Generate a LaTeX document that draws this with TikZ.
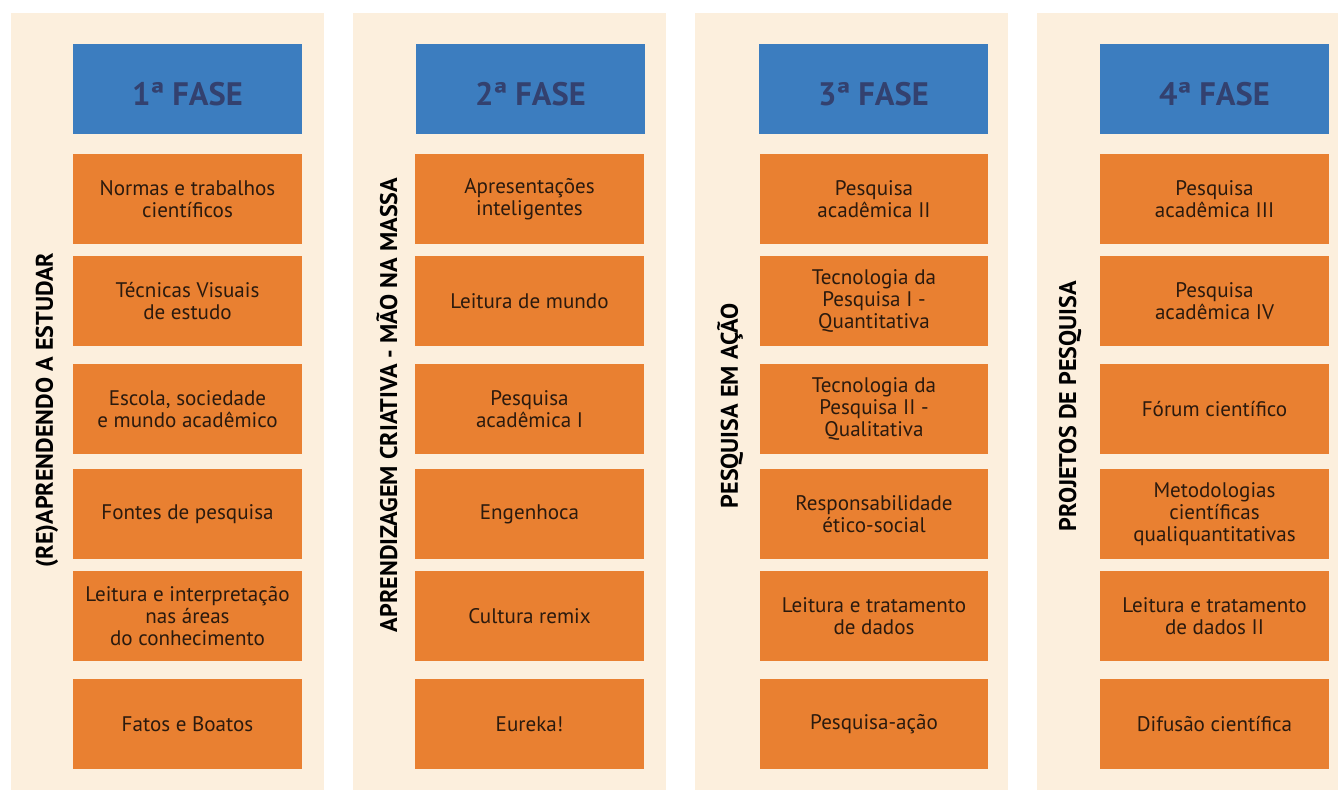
\documentclass[tikz,border=0pt]{standalone}
\usepackage{fontspec}
\setmainfont{PT Sans}
\usepackage{tikz}
\usetikzlibrary{positioning,calc}
\usepackage{xcolor}

\definecolor{panelcream}{HTML}{FCEFDD}
\definecolor{phaseblue}{HTML}{3C7DBF}
\definecolor{phasetext}{HTML}{33416F}
\definecolor{itemorange}{HTML}{E98031}
\definecolor{itemtext}{HTML}{2B1A0E}

\tikzset{
  panel/.style={fill=panelcream, draw=none},
  phasebox/.style={fill=phaseblue, text=phasetext, minimum width=4.58cm, minimum height=1.8cm,
    inner sep=0pt, text height=0.66cm, text depth=0pt, font=\fontsize{18.5}{20}\selectfont\bfseries},
  stepitem/.style={fill=itemorange, text=itemtext, minimum width=4.58cm, minimum height=1.8cm,
    inner sep=0pt, align=center, font=\fontsize{12}{12.5}\selectfont},
  sidelabel/.style={rotate=90, text=black, font=\fontsize{13.7}{15}\selectfont\bfseries}
}

\begin{document}
\begin{tikzpicture}[x=0.02cm, y=-0.02cm]
\useasboundingbox (0,0) rectangle (1338,790);

% fundos das fases
\fill[panel] (11,13) rectangle (324,790);
\fill[panel] (353,13) rectangle (666,790);
\fill[panel] (695,13) rectangle (1008,790);
\fill[panel] (1037,13) rectangle (1338,790);

% cabecalhos
\node[phasebox] (fase1) at (187.5,89) {1ª FASE};
\node[phasebox] (fase2) at (530.5,89) {2ª FASE};
\node[phasebox] (fase3) at (873.5,89) {3ª FASE};
\node[phasebox] (fase4) at (1214.5,89) {4ª FASE};

% titulos laterais
\node[sidelabel] (tit1) at (47,410) {(RE)APRENDENDO A ESTUDAR};
\node[sidelabel] (tit2) at (387,405) {APRENDIZAGEM CRIATIVA - MÃO NA MASSA};
\node[sidelabel] (tit3) at (730,406) {PESQUISA EM AÇÃO};
\node[sidelabel] (tit4) at (1070,406) {PROJETOS DE PESQUISA};

% 1a fase
\foreach \y/\t [count=\i] in {199/{Normas e trabalhos\\científicos},
    301/{Técnicas Visuais\\de estudo},
    409/{Escola, sociedade\\e mundo acadêmico},
    514/{Fontes de pesquisa},
    616/{Leitura e interpretação\\nas áreas\\do conhecimento},
    724/{Fatos e Boatos}} {
  \node[stepitem] (a\i) at (187.5,\y) {\t};
}

% 2a fase
\foreach \y/\t [count=\i] in {199/{Apresentações\\inteligentes},
    301/{Leitura de mundo},
    409/{Pesquisa\\acadêmica I},
    514/{Engenhoca},
    616/{Cultura remix},
    724/{Eureka!}} {
  \node[stepitem] (b\i) at (529.5,\y) {\t};
}

% 3a fase
\foreach \y/\t [count=\i] in {199/{Pesquisa\\acadêmica II},
    301/{Tecnologia da\\Pesquisa I -\\Quantitativa},
    409/{Tecnologia da\\Pesquisa II -\\Qualitativa},
    514/{Responsabilidade\\ético-social},
    616/{Leitura e tratamento\\de dados},
    724/{Pesquisa-ação}} {
  \node[stepitem] (c\i) at (874,\y) {\t};
}

% 4a fase
\foreach \y/\t [count=\i] in {199/{Pesquisa\\acadêmica III},
    301/{Pesquisa\\acadêmica IV},
    409/{Fórum científico},
    514/{Metodologias\\científicas\\qualiquantitativas},
    616/{Leitura e tratamento\\de dados II},
    724/{Difusão científica}} {
  \node[stepitem] (d\i) at (1214.5,\y) {\t};
}
\end{tikzpicture}
\end{document}
